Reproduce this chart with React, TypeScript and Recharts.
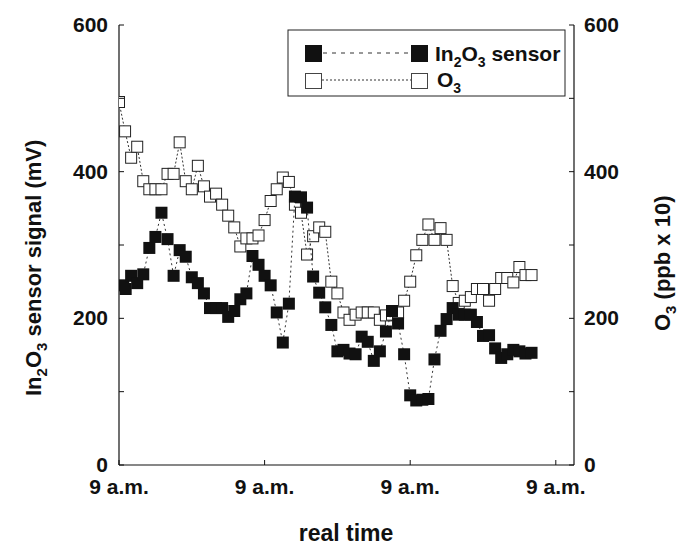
import React from 'react';
import { ScatterChart, Scatter, XAxis, YAxis, Label } from 'recharts';

// In2O3 sensor signal (mV) vs. elapsed hours since first 9 a.m.
const sensorHours = [0.7, 1.1, 2, 3, 4, 5, 6, 7, 8, 9, 10, 11, 12, 13, 14, 15, 16, 17, 18, 19, 20, 21, 22, 23, 24, 25, 26, 27, 28, 29, 30, 31, 32, 33, 34, 35, 36, 37, 38, 39, 40, 41, 42, 43, 44, 45, 46, 47, 48, 49, 50, 51, 52, 53, 54, 55, 56, 57, 58, 59, 60, 61, 62, 63, 64, 65, 66, 67, 68];
const sensorValues = [245, 240, 258, 248, 260, 296, 311, 344, 308, 258, 293, 284, 256, 248, 234, 214, 214, 214, 202, 210, 226, 234, 285, 273, 258, 245, 208, 167, 220, 366, 365, 351, 257, 235, 215, 191, 155, 157, 152, 151, 175, 168, 142, 155, 182, 210, 193, 151, 95, 88, 89, 90, 144, 183, 199, 214, 205, 205, 205, 195, 176, 177, 159, 146, 151, 157, 155, 152, 153];

// O3 (ppb x 10)
const ozoneHours = [0, 1, 2, 3, 4, 5, 6, 7, 8, 9, 10, 11, 12, 13, 14, 15, 16, 17, 18, 19, 20, 21, 22, 23, 24, 25, 26, 27, 28, 29, 30, 31, 32, 33, 34, 35, 36, 37, 38, 39, 40, 41, 42, 43, 44, 45, 46, 47, 48, 49, 50, 51, 52, 53, 54, 55, 56, 57, 58, 59, 60, 61, 62, 63, 64, 65, 66, 67, 68];
const ozoneValues = [495, 455, 419, 434, 387, 376, 376, 376, 397, 397, 440, 387, 376, 408, 380, 366, 370, 355, 340, 324, 298, 309, 309, 313, 334, 360, 376, 392, 386, 355, 344, 287, 312, 324, 318, 250, 234, 208, 198, 205, 208, 208, 208, 198, 204, 205, 208, 224, 250, 286, 307, 328, 307, 323, 307, 244, 221, 224, 229, 240, 240, 224, 240, 255, 255, 249, 270, 259, 259];

const xTicks = [0, 24, 48, 72];
const xTickLabels = ['9 a.m.', '9 a.m.', '9 a.m.', '9 a.m.'];
const yTicks = [0, 100, 200, 300, 400, 500, 600];
const yLabeledTicks = [0, 200, 400, 600];

const sensorData = sensorHours.map((t, i) => ({ t, v: sensorValues[i] }));
const ozoneData = ozoneHours.map((t, i) => ({ t, v: ozoneValues[i] }));

const FONT = '"Liberation Sans", Arial, Helvetica, sans-serif';
const INK = '#111';

const SensorMarker = (p: any) => (
  <rect x={p.cx - 6} y={p.cy - 6} width={12} height={12} fill={INK} />
);
const OzoneMarker = (p: any) => (
  <rect x={p.cx - 5.5} y={p.cy - 5.5} width={11} height={11} fill="#fff" stroke="#222" strokeWidth={1} />
);

const LeftTick = (p: any) => {
  const { x, y, payload } = p;
  const v = payload.value;
  return (
    <g>
      <line x1={x + 11} x2={x + 16} y1={y} y2={y} stroke={INK} strokeWidth={1} />
      {yLabeledTicks.includes(v) && (
        <text x={x} y={y} dy="0.33em" textAnchor="end" fontFamily={FONT} fontWeight="bold" fontSize={21} fill={INK}>
          {v}
        </text>
      )}
    </g>
  );
};

const RightTick = (p: any) => {
  const { x, y, payload } = p;
  const v = payload.value;
  return (
    <g>
      <line x1={x - 10} x2={x - 15} y1={y} y2={y} stroke={INK} strokeWidth={1} />
      {yLabeledTicks.includes(v) && (
        <text x={x} y={y} dy="0.33em" textAnchor="start" fontFamily={FONT} fontWeight="bold" fontSize={21} fill={INK}>
          {v}
        </text>
      )}
    </g>
  );
};

const BottomTick = (p: any) => {
  const { x, y, payload, index } = p;
  return (
    <g>
      <line x1={x} x2={x} y1={y - 14} y2={y - 19} stroke={INK} strokeWidth={1} />
      <text x={x} y={y} dy="0.71em" textAnchor="middle" fontFamily={FONT} fontWeight="bold" fontSize={21} fill={INK}>
        {xTickLabels[index] ?? ''}
      </text>
    </g>
  );
};

const TopTick = (p: any) => {
  const { x, y } = p;
  return <line x1={x} x2={x} y1={y} y2={y + 5} stroke={INK} strokeWidth={1} />;
};

const LeftAxisLabel = () => (
  <text
    x={41}
    y={396}
    transform="rotate(-90, 41, 396)"
    textAnchor="start"
    fontFamily={FONT}
    fontWeight="bold"
    fontSize={22}
    fill={INK}
  >
    <tspan>In</tspan>
    <tspan dy={6} fontSize={15}>2</tspan>
    <tspan dy={-6}>O</tspan>
    <tspan dy={6} fontSize={15}>3</tspan>
    <tspan dy={-6}> sensor signal (mV)</tspan>
  </text>
);

const RightAxisLabel = () => (
  <text
    x={670}
    y={331}
    transform="rotate(-90, 670, 331)"
    textAnchor="start"
    fontFamily={FONT}
    fontWeight="bold"
    fontSize={22}
    fill={INK}
  >
    <tspan>O</tspan>
    <tspan dy={6} fontSize={15}>3</tspan>
    <tspan dy={-6}> (ppb x 10)</tspan>
  </text>
);

const BottomAxisLabel = () => (
  <text x={346} y={541} textAnchor="middle" fontFamily={FONT} fontWeight="bold" fontSize={23} fill={INK}>
    real time
  </text>
);

const LegendOverlay = () => (
  <svg width={678} height={545} style={{ position: 'absolute', left: 0, top: 0, pointerEvents: 'none' }}>
    <rect x={288} y={30} width={277} height={66} fill="#fff" stroke="#222" strokeWidth={1} />
    <line x1={323} x2={410} y1={53} y2={53} stroke="#333" strokeWidth={1} strokeDasharray="4 5" />
    <rect x={305} y={45} width={17} height={17} fill={INK} />
    <rect x={411} y={45} width={17} height={17} fill={INK} />
    <text x={435} y={61} fontFamily={FONT} fontWeight="bold" fontSize={21} fill={INK}>
      <tspan>In</tspan>
      <tspan dy={6} fontSize={14}>2</tspan>
      <tspan dy={-6}>O</tspan>
      <tspan dy={6} fontSize={14}>3</tspan>
      <tspan dy={-6}> sensor</tspan>
    </text>
    <line x1={322} x2={411} y1={80} y2={80} stroke="#333" strokeWidth={1} strokeDasharray="2 2" />
    <rect x={305.5} y={73.5} width={16} height={15} fill="#fff" stroke="#444" strokeWidth={1} />
    <rect x={411.5} y={73.5} width={16} height={15} fill="#fff" stroke="#444" strokeWidth={1} />
    <text x={437} y={87} fontFamily={FONT} fontWeight="bold" fontSize={21} fill={INK}>
      <tspan>O</tspan>
      <tspan dy={6} fontSize={14}>3</tspan>
    </text>
  </svg>
);

export default function App() {
  return (
    <div style={{ position: 'absolute', left: 0, top: 0, width: 678, height: 545, background: '#fff' }}>
      <ScatterChart width={678} height={545} margin={{ top: 25, right: 0, left: 0, bottom: 0 }}>
        <XAxis
          xAxisId="bottom"
          dataKey="t"
          type="number"
          domain={[0, 75]}
          ticks={xTicks}
          interval={0}
          height={80}
          tickSize={0}
          tickMargin={14}
          tickLine={false}
          axisLine={{ stroke: INK, strokeWidth: 1.2 }}
          tick={<BottomTick />}
          allowDataOverflow
        >
          <Label content={<BottomAxisLabel />} />
        </XAxis>
        <XAxis
          xAxisId="top"
          orientation="top"
          type="number"
          domain={[0, 75]}
          ticks={xTicks}
          interval={0}
          height={0}
          tickSize={0}
          tickLine={false}
          axisLine={{ stroke: INK, strokeWidth: 1.2 }}
          tick={<TopTick />}
          allowDataOverflow
        />
        <YAxis
          yAxisId="left"
          dataKey="v"
          type="number"
          domain={[0, 600]}
          ticks={yTicks}
          interval={0}
          width={119}
          tickSize={0}
          tickMargin={11}
          tickLine={false}
          axisLine={{ stroke: INK, strokeWidth: 1.2 }}
          tick={<LeftTick />}
          allowDataOverflow
        >
          <Label content={<LeftAxisLabel />} />
        </YAxis>
        <YAxis
          yAxisId="right"
          orientation="right"
          dataKey="v"
          type="number"
          domain={[0, 600]}
          ticks={yTicks}
          interval={0}
          width={104}
          tickSize={0}
          tickMargin={10}
          tickLine={false}
          axisLine={{ stroke: INK, strokeWidth: 1.2 }}
          tick={<RightTick />}
          allowDataOverflow
        >
          <Label content={<RightAxisLabel />} />
        </YAxis>
        <Scatter
          name="O3"
          data={ozoneData}
          xAxisId="bottom"
          yAxisId="right"
          line={{ stroke: '#333', strokeWidth: 1, strokeDasharray: '2 2' }}
          lineType="joint"
          shape={<OzoneMarker />}
          isAnimationActive={false}
        />
        <Scatter
          name="In2O3 sensor"
          data={sensorData}
          xAxisId="bottom"
          yAxisId="left"
          line={{ stroke: '#333', strokeWidth: 1, strokeDasharray: '2 3' }}
          lineType="joint"
          shape={<SensorMarker />}
          isAnimationActive={false}
        />
      </ScatterChart>
      <LegendOverlay />
    </div>
  );
}
